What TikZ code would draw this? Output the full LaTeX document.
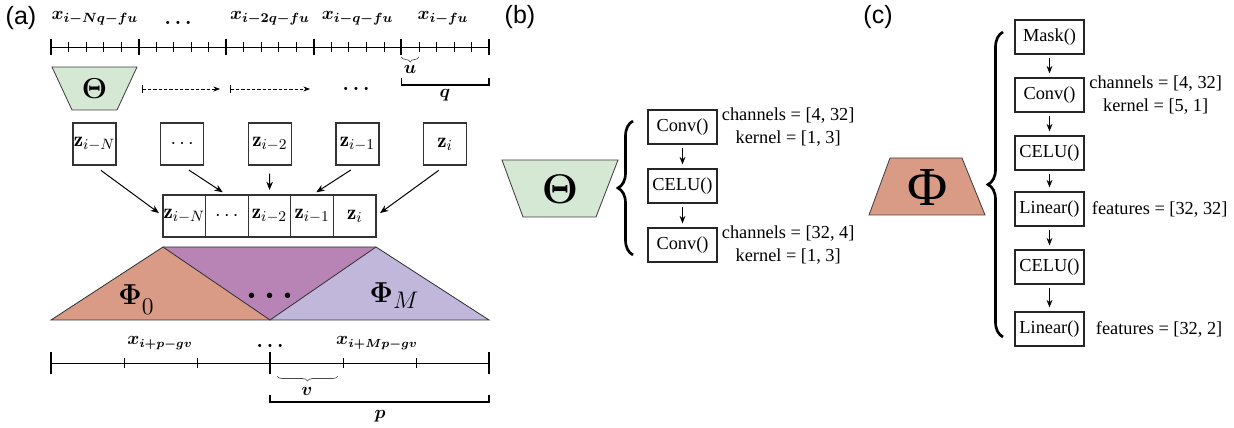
\documentclass[tikz,border=0pt]{standalone}
\usepackage{fontspec}
\usepackage{bm}
\usepackage{tikz}
\usetikzlibrary{arrows.meta,positioning,decorations.pathreplacing}

\newfontfamily\tnr{Liberation Serif}
\newfontfamily\arialf{Liberation Sans}

\definecolor{thetagreen}{HTML}{D5E8D4}
\definecolor{phisalmon}{HTML}{D99A86}
\definecolor{phimid}{HTML}{B883B5}
\definecolor{philav}{HTML}{C0B7DB}

\begin{document}
\begin{tikzpicture}[
  x=0.6pt, y=-0.6pt,
  panel/.style={inner sep=0pt,font=\arialf\fontsize{15}{17}\selectfont},
  lab/.style={inner sep=0pt,anchor=base,font=\fontsize{11}{13}\selectfont},
  dots/.style={inner sep=0pt,anchor=base,font=\fontsize{13}{15}\selectfont},
  zbox/.style={rectangle,draw=black!80,line width=0.8pt,minimum width=25.8pt,
               minimum height=25.2pt,inner sep=0pt,font=\fontsize{12.5}{14}\selectfont},
  cell/.style={zbox,minimum width=25.56pt,outer sep=0pt},
  layer/.style={rectangle,draw=black!85,line width=0.7pt,minimum width=41.4pt,
                minimum height=20.4pt,inner sep=1pt,font=\tnr\fontsize{11}{13}\selectfont},
  note/.style={align=center,inner sep=0pt,font=\tnr\fontsize{11}{13.6}\selectfont},
  arr/.style={-{Stealth[length=5pt,width=4pt]},line width=0.6pt,shorten <=4.8pt,shorten >=3pt},
  sarr/.style={-{Stealth[length=4.5pt,width=3.5pt]},line width=0.6pt,shorten <=1.8pt,shorten >=2.4pt},
  dasharr/.style={{Bar[width=5pt]}-{Stealth[length=4pt,width=3pt]},line width=0.45pt,
                  dash pattern=on 2pt off 1.2pt},
  bigbrace/.style={decorate,decoration={brace,amplitude=9pt},line width=1.6pt},
  smallbrace/.style={decorate,decoration={brace,amplitude=3pt},line width=0.4pt,draw=black!70},
  major/.style={line width=1.3pt},
  minor/.style={line width=0.45pt}
]
  \useasboundingbox (0,0) rectangle (1234,428);

  % panel letters
  \node[panel] (pa) at (21,18) {(a)};
  \node[panel] (pb) at (520,17) {(b)};
  \node[panel] (pc) at (878,17) {(c)};

  % (a) input ruler
  \draw[line width=0.5pt] (51,47) -- (489,47);
  \foreach \k in {0,...,25} \draw[minor] ({51+17.52*\k},42) -- ++(0,10);
  \foreach \k in {0,...,5} \draw[major] ({51+87.6*\k},39) -- ++(0,16);
  \node[lab] (xN) at (94.8,20) {$\bm{x_{i-Nq-fu}}$};
  \node[dots] (xdots) at (178,25) {$\bm{\ldots}$};
  \node[lab] (x2) at (270,20) {$\bm{x_{i-2q-fu}}$};
  \node[lab] (x1) at (357.6,20) {$\bm{x_{i-q-fu}}$};
  \node[lab] (x0) at (443,20) {$\bm{x_{i-fu}}$};
  \draw[smallbrace] (418.9,57) -- (401.4,57);
  \node[lab] (ulab) at (410,74) {$\bm{u}$};
  \draw[line width=0.8pt] (401.4,78) -- (401.4,85) -- (489,85) -- (489,78);
  \node[lab] (qlab) at (445,98) {$\bm{q}$};

  % (a) encoder sliding along
  \draw[fill=thetagreen,draw=black!75,line width=0.5pt] (52,67) -- (137,67) -- (117,110) -- (72,110) -- cycle;
  \node (thetaA) at (94.5,89) {\fontsize{19}{20}\selectfont$\bm{\Theta}$};
  \coordinate (dA1) at (142,89);
  \coordinate (dA2) at (220,89);
  \coordinate (dB1) at (230,89);
  \coordinate (dB2) at (310,89);
  \draw[dasharr] (dA1) -- (dA2);
  \draw[dasharr] (dB1) -- (dB2);
  \node[dots,font=\fontsize{12}{14}\selectfont] (edots) at (356,91) {$\bm{\ldots}$};

  % (a) latent codes
  \node[zbox] (z1) at (94.5,144) {$\mathbf{z}_{i-N}$};
  \node[zbox,right=26pt of z1] (z2) {$\cdots$};
  \node[zbox,right=26pt of z2] (z3) {$\mathbf{z}_{i-2}$};
  \node[zbox,right=26pt of z3] (z4) {$\mathbf{z}_{i-1}$};
  \node[zbox,right=26pt of z4] (z5) {$\mathbf{z}_{i}$};

  \node[cell] (c1) at (184.3,216) {$\mathbf{z}_{i-N}$};
  \node[cell,right=0pt of c1] (c2) {$\cdots$};
  \node[cell,right=0pt of c2] (c3) {$\mathbf{z}_{i-2}$};
  \node[cell,right=0pt of c3] (c4) {$\mathbf{z}_{i-1}$};
  \node[cell,right=0pt of c4] (c5) {$\mathbf{z}_{i}$};

  \draw[arr] (z1.south) -- (c1.west);
  \draw[arr] (z2.south) -- (c2.north);
  \draw[arr] (z3.south) -- (c3.north);
  \draw[arr] (z4.south) -- (c4.north);
  \draw[arr] (z5.south) -- (c5.east);

  % (a) decoders
  \coordinate (tl) at (163,247);
  \coordinate (tr) at (376,247);
  \coordinate (bl) at (51,320);
  \coordinate (bm) at (270,320);
  \coordinate (br) at (489,320);
  \fill[phimid] (tl) -- (tr) -- (bm) -- cycle;
  \fill[phisalmon] (bl) -- (tl) -- (bm) -- cycle;
  \fill[philav] (bm) -- (tr) -- (br) -- cycle;
  \draw[line width=0.5pt,draw=black!80] (bl) -- (tl) -- (tr) -- (br) -- cycle;
  \draw[line width=0.5pt,draw=black!80] (tl) -- (bm) -- (tr);
  \node (phi0) at (136,300) {\fontsize{18}{20}\selectfont$\bm{\Phi}$\raisebox{-6pt}{\fontsize{14}{16}\selectfont$0$}};
  \node (phiM) at (394,296) {\fontsize{18}{20}\selectfont$\bm{\Phi}$\raisebox{-3.5pt}{\fontsize{15}{17}\selectfont$M$}};
  \node (phidots) at (270,296) {\fontsize{20}{22}\selectfont$\bm{\cdots}$};

  % (a) output ruler
  \draw[line width=0.5pt] (51,363) -- (489,363);
  \foreach \x in {124,197,343,416} \draw[minor] (\x,358) -- (\x,368);
  \foreach \x in {51,270,489} \draw[major] (\x,352) -- (\x,374);
  \node[lab,font=\fontsize{10.5}{12}\selectfont] (y1) at (160,345) {$\bm{x_{i+p-gv}}$};
  \node[dots,font=\fontsize{12}{14}\selectfont] (ydots) at (270,347) {$\bm{\ldots}$};
  \node[lab,font=\fontsize{10.5}{12}\selectfont] (yM) at (377,345) {$\bm{x_{i+Mp-gv}}$};
  \draw[smallbrace] (338,376) -- (277,376);
  \node[lab] (vlab) at (307,395) {$\bm{v}$};
  \draw[line width=0.8pt] (270,395) -- (270,402) -- (489,402) -- (489,395);
  \node[lab] (plab) at (380,418) {$\bm{p}$};

  % (b) encoder
  \draw[fill=thetagreen,draw=black!75,line width=0.5pt] (502,160) -- (618,160) -- (596,217) -- (523,217) -- cycle;
  \node (thetaB) at (560,189) {\fontsize{27}{28}\selectfont$\bm{\Theta}$};
  \draw[bigbrace] (633,255) -- (633,121);
  \node[layer] (bconv1) at (682.5,127) {Conv()};
  \node[layer,below=14.3pt of bconv1] (bcelu) {CELU()};
  \node[layer,below=14.3pt of bcelu] (bconv2) {Conv()};
  \draw[sarr] (bconv1) -- (bcelu);
  \draw[sarr] (bcelu) -- (bconv2);
  \node[note,right=2.4pt of bconv1] (bnote1) {channels = [4, 32]\\kernel = [1, 3]};
  \node[note,right=2.4pt of bconv2] (bnote2) {channels = [32, 4]\\kernel = [1, 3]};

  % (c) decoder
  \draw[fill=phisalmon,draw=black!75,line width=0.5pt] (890,158) -- (962,158) -- (985,215) -- (869,215) -- cycle;
  \node (phiC) at (928,187) {\tnr\fontsize{33}{34}\selectfont Φ};
  \draw[bigbrace] (1003,337) -- (1003,32);
  \node[layer] (cmask) at (1049.5,37) {Mask()};
  \node[layer,below=13.7pt of cmask] (cconv) {Conv()};
  \node[layer,below=13.7pt of cconv] (ccelu1) {CELU()};
  \node[layer,below=12.5pt of ccelu1] (clin1) {Linear()};
  \node[layer,below=13.7pt of clin1] (ccelu2) {CELU()};
  \node[layer,below=16.1pt of ccelu2] (clin2) {Linear()};
  \draw[sarr] (cmask) -- (cconv);
  \draw[sarr] (cconv) -- (ccelu1);
  \draw[sarr] (ccelu1) -- (clin1);
  \draw[sarr] (clin1) -- (ccelu2);
  \draw[sarr] (ccelu2) -- (clin2);
  \node[note,right=2.7pt of cconv] (cnote1) {channels = [4, 32]\\kernel = [5, 1]};
  \node[note,right=4.2pt of clin1] (cnote2) {features = [32, 32]};
  \node[note,right=6.6pt of clin2] (cnote3) {features = [32, 2]};
\end{tikzpicture}
\end{document}
